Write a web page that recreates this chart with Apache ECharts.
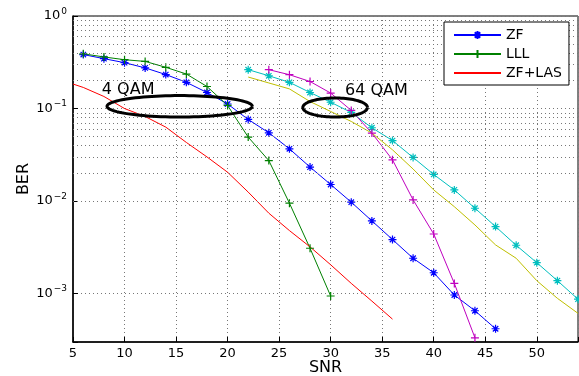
<!DOCTYPE html>
<html><head><meta charset="utf-8">
<script src="https://cdn.jsdelivr.net/npm/echarts@6/dist/echarts.min.js"></script>
<style>html,body{margin:0;padding:0;background:#fff}#c{width:579px;height:376px}</style>
</head><body><div id="c"></div>
<script>
// ---- data ----
const snrZF4 = [6,8,10,12,14,16,18,20,22,24,26,28,30,32,34,36,38,40,42,44,46];
const berZF4 = [0.383,0.346,0.313,0.275,0.233,0.192,0.149,0.112,0.0762,0.0547,0.0367,0.0233,0.0151,0.00973,0.00611,0.00384,0.00241,0.00168,0.000966,0.000653,0.000417];
const snrLLL4 = [6,8,10,12,14,16,18,20,22,24,26,28,30];
const berLLL4 = [0.39,0.361,0.337,0.323,0.279,0.236,0.173,0.108,0.0491,0.0274,0.00949,0.00309,0.000942];
const snrLAS4 = [5,6,8,10,12,14,16,18,20,22,24,26,28,30,32,34,36];
const berLAS4 = [0.184,0.169,0.135,0.100,0.082,0.063,0.043,0.030,0.0205,0.0125,0.0074,0.0048,0.0032,0.00205,0.00129,0.00083,0.00053];
const snrZF64 = [22,24,26,28,30,32,34,36,38,40,42,44,46,48,50,52,54];
const berZF64 = [0.263,0.226,0.192,0.149,0.117,0.0907,0.062,0.0451,0.0296,0.0194,0.0132,0.00837,0.0053,0.00333,0.00216,0.00138,0.00087];
const snrLLL64 = [24,26,28,30,32,34,36,38,40,42,44];
const berLLL64 = [0.263,0.232,0.196,0.147,0.0954,0.0543,0.0279,0.0103,0.00441,0.00129,0.000333];
const snrLAS64 = [22,24,26,28,30,32,34,36,38,40,42,44,46,48,50,52,54];
const berLAS64 = [0.219,0.189,0.163,0.119,0.093,0.0725,0.0543,0.0358,0.0222,0.0132,0.0087,0.00552,0.00336,0.00241,0.00138,0.00089,0.000612];
const legendNames = ['ZF','LLL','ZF+LAS'];
const xTicks = [5,10,15,20,25,30,35,40,45,50];
const yExponents = [0,-1,-2,-3];
// annotations: ellipse extents [x0, x1, yTop, yBottom] and label anchors
const ellipses = [[8.3,22.4,0.138,0.081],[27.3,33.57,0.130,0.081]];
const notes = [['4 QAM',7.8,0.16],['64 QAM',31.4,0.157]];

// ---- build ----
const FONT = 'DejaVu Sans';
const GRIDC = '#777';
const pairs = (xs, ys) => xs.map((x,i)=>[x, ys[i]]);
const STAR = 'path://M0,5L10,5M5,0L5,10M1.6,1.6L8.4,8.4M8.4,1.6L1.6,8.4';
const PLUS = 'path://M0,5L10,5M5,0L5,10';
const minorGrid = [];
for (let e=-4;e<0;e++) for (let k=2;k<=9;k++){ const v=+(k*Math.pow(10,e)).toPrecision(3); if (v>3e-4 && v<1) minorGrid.push(v); }

function lineSeries(name, xs, ys, color, symbol){
  const s = {
    type:'line', name, data: pairs(xs, ys), animation:false, silent:true,
    lineStyle:{color, width:1}, z:3,
    emphasis:{disabled:true}
  };
  if (symbol){
    s.symbol = symbol; s.symbolSize = 8; s.showSymbol = true;
    s.itemStyle = {color:'rgba(0,0,0,0)', borderColor:color, borderWidth:1.2};
  } else {
    s.symbol = 'circle'; s.showSymbol = false;
    s.itemStyle = {color:'rgba(0,0,0,0)', borderColor:'rgba(0,0,0,0)', borderWidth:0};
  }
  return s;
}

const series = [
  lineSeries('ZF', snrZF4, berZF4, '#0000ff', STAR),
  lineSeries('LLL', snrLLL4, berLLL4, '#008000', PLUS),
  lineSeries('ZF+LAS', snrLAS4, berLAS4, '#ff0000', null),
  lineSeries('ZF 64QAM', snrZF64, berZF64, '#00bfbf', STAR),
  lineSeries('LLL 64QAM', snrLLL64, berLLL64, '#bf00bf', PLUS),
  lineSeries('ZF+LAS 64QAM', snrLAS64, berLAS64, '#bfbf00', null),
  {
    type:'custom', name:'ellipses', silent:true, animation:false, z:5,
    data: ellipses, encode:{x:[0,1], y:[2,3]}, clip:false,
    renderItem(params, api){
      const a = api.coord([api.value(0), api.value(2)]);
      const b = api.coord([api.value(1), api.value(3)]);
      const cx=(a[0]+b[0])/2, cy=(a[1]+b[1])/2, rx=Math.abs(b[0]-a[0])/2, ry=Math.abs(b[1]-a[1])/2;
      const pts=[]; for(let i=0;i<=96;i++){const t=i/96*2*Math.PI; pts.push([cx+rx*Math.cos(t), cy+ry*Math.sin(t)]);}
      return {type:'polyline', shape:{points:pts}, style:{fill:null, stroke:'#000', lineWidth:3}};
    }
  },
  {
    type:'custom', name:'notes', silent:true, animation:false, z:6,
    data: notes.map(n=>[n[1], n[2], n[0]]), encode:{x:0, y:1}, clip:false,
    renderItem(params, api){
      const p = api.coord([api.value(0), api.value(1)]);
      return {type:'text', x:p[0], y:p[1], style:{text: notes[params.dataIndex][0], fontFamily:FONT, fontSize:16, fill:'#000', align:'left', verticalAlign:'middle'}};
    }
  },
  {
    type:'line', name:'grid', data:[], silent:true, animation:false,
    markLine:{silent:true, symbol:'none', animation:false, label:{show:false},
      lineStyle:{color:GRIDC, type:[1,3], width:1},
      data: minorGrid.map(v=>({yAxis:v}))}
  }
];

const chart = echarts.init(document.getElementById('c'));
chart.setOption({
  backgroundColor:'#fff',
  animation:false,
  textStyle:{fontFamily:FONT},
  grid:{left:73, right:1, top:16, bottom:34, containLabel:false, outerBoundsMode:'none',
    show:true, borderColor:'#000', borderWidth:1, backgroundColor:'#fff'},
  legend:{
    data: legendNames, orient:'vertical', left:444, top:22, itemWidth:47, itemHeight:10, itemGap:5,
    padding:[6,7,5,9], borderColor:'#000', borderWidth:1, backgroundColor:'#fff',
    textStyle:{fontFamily:FONT, fontSize:14, color:'#000'}, selectedMode:false, z:10
  },
  xAxis:{
    type:'value', min:5, max:54, interval:5,
    name:'SNR', nameLocation:'middle', nameGap:18, nameMoveOverlap:false,
    nameTextStyle:{fontFamily:FONT, fontSize:16, color:'#000', verticalAlign:'top'},
    axisLine:{lineStyle:{color:'#000', width:1.5}},
    axisTick:{inside:true, length:5, lineStyle:{color:'#000'}},
    axisLabel:{fontFamily:FONT, fontSize:13, color:'#000', margin:5,
      formatter: v => xTicks.includes(v) ? String(v) : ''},
    splitLine:{show:true, lineStyle:{color:GRIDC, type:[1,3], width:1}}
  },
  yAxis:{
    type:'log', logBase:10, min:3e-4, max:1,
    name:'BER', nameLocation:'middle', nameGap:41, nameMoveOverlap:false,
    nameTextStyle:{fontFamily:FONT, fontSize:16, color:'#000'},
    axisLine:{lineStyle:{color:'#000', width:1.5}},
    axisTick:{inside:true, length:5, lineStyle:{color:'#000'}},
    axisLabel:{margin:6, color:'#000',
      formatter: v => { const e = Math.round(Math.log10(v)); if (Math.abs(Math.log10(v)-e)>1e-6 || !yExponents.includes(e)) return ''; return '{b|10}{s|' + (e<0?'\u2212'+(-e):e) + '}'; },
      rich:{b:{fontFamily:FONT, fontSize:13, color:'#000'}, s:{fontFamily:FONT, fontSize:9, color:'#000', verticalAlign:'bottom', padding:[0,0,9,1]}}
    },
    splitLine:{show:true, lineStyle:{color:GRIDC, type:[1,3], width:1}}
  },
  series
});
</script>
</body></html>
